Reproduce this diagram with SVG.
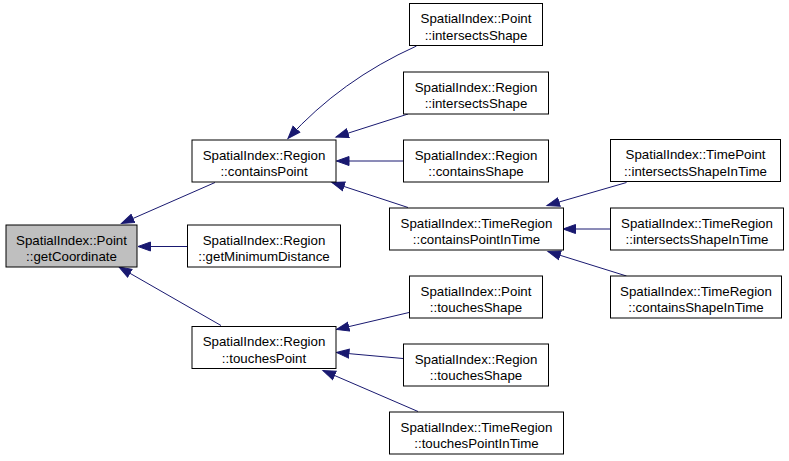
<svg xmlns="http://www.w3.org/2000/svg" width="789" height="461" viewBox="0 0 789 461">
<defs>
<style>
.box{fill:#ffffff;stroke:#000000;stroke-width:1}
.sel{fill:#bfbfbf;stroke:#000000;stroke-width:1}
text{font-family:"Liberation Sans",Helvetica,Arial,sans-serif;font-size:13.3px;fill:#000000;text-anchor:middle}
.edge{fill:none;stroke:#191970;stroke-width:1;marker-end:url(#arr)}
</style>
<marker id="arr" markerUnits="userSpaceOnUse" markerWidth="16" markerHeight="12" refX="13" refY="5" orient="auto" viewBox="0 0 16 10">
<path d="M0.5,0.5 L13,5 L0.5,9.5 Z" fill="#191970" stroke="#191970" stroke-width="1"/>
</marker>
</defs>
<g id="edges">
<path class="edge" d="M215,182.5 L121.5,223.5"/>
<path class="edge" d="M187,246.5 L138,246.5"/>
<path class="edge" d="M221,325.5 L119,267"/>
<path class="edge" d="M416.5,46 Q341,80 288,138.5"/>
<path class="edge" d="M408,114 L336,137"/>
<path class="edge" d="M403,161 L336.5,161"/>
<path class="edge" d="M408,207.5 L332,182.5"/>
<path class="edge" d="M626.5,182.5 L547,205.5"/>
<path class="edge" d="M610,229 L563,229"/>
<path class="edge" d="M626.5,276 L548,251.5"/>
<path class="edge" d="M409,312.5 L336.5,329.5"/>
<path class="edge" d="M403,358.5 L336.5,352.5"/>
<path class="edge" d="M418,411.5 L323,370.5"/>
</g>
<g id="n_getCoordinate"><rect class="sel" x="6" y="225" width="131" height="42"/><text x="71.5" y="244.5">SpatialIndex::Point</text><text x="71.5" y="261">::getCoordinate</text></g>
<g id="n_containsPoint"><rect class="box" x="192" y="140" width="144" height="42"/><text x="264" y="159.5">SpatialIndex::Region</text><text x="264" y="176">::containsPoint</text></g>
<g id="n_getMinimumDistance"><rect class="box" x="187.5" y="225" width="153" height="42"/><text x="264" y="244.5">SpatialIndex::Region</text><text x="264" y="261">::getMinimumDistance</text></g>
<g id="n_touchesPoint"><rect class="box" x="192" y="326.5" width="144" height="42"/><text x="264" y="346">SpatialIndex::Region</text><text x="264" y="362.5">::touchesPoint</text></g>
<g id="n_point_intersectsShape"><rect class="box" x="409.5" y="3.5" width="133" height="42"/><text x="476" y="23">SpatialIndex::Point</text><text x="476" y="39.5">::intersectsShape</text></g>
<g id="n_region_intersectsShape"><rect class="box" x="403.5" y="72" width="145" height="42"/><text x="476" y="91.5">SpatialIndex::Region</text><text x="476" y="108">::intersectsShape</text></g>
<g id="n_region_containsShape"><rect class="box" x="403.5" y="140" width="145" height="42"/><text x="476" y="159.5">SpatialIndex::Region</text><text x="476" y="176">::containsShape</text></g>
<g id="n_containsPointInTime"><rect class="box" x="389.5" y="208" width="174" height="42"/><text x="476.5" y="227.5">SpatialIndex::TimeRegion</text><text x="476.5" y="244">::containsPointInTime</text></g>
<g id="n_point_touchesShape"><rect class="box" x="409.5" y="276" width="133" height="42"/><text x="476" y="295.5">SpatialIndex::Point</text><text x="476" y="312">::touchesShape</text></g>
<g id="n_region_touchesShape"><rect class="box" x="403.5" y="344" width="145" height="42"/><text x="476" y="363.5">SpatialIndex::Region</text><text x="476" y="380">::touchesShape</text></g>
<g id="n_touchesPointInTime"><rect class="box" x="389.5" y="412" width="174" height="42"/><text x="476.5" y="431.5">SpatialIndex::TimeRegion</text><text x="476.5" y="448">::touchesPointInTime</text></g>
<g id="n_timepoint_intersectsShapeInTime"><rect class="box" x="610.5" y="139.5" width="170" height="42"/><text x="695.5" y="159">SpatialIndex::TimePoint</text><text x="695.5" y="175.5">::intersectsShapeInTime</text></g>
<g id="n_timeregion_intersectsShapeInTime"><rect class="box" x="610.5" y="208" width="173" height="42"/><text x="697" y="227.5">SpatialIndex::TimeRegion</text><text x="697" y="244">::intersectsShapeInTime</text></g>
<g id="n_timeregion_containsShapeInTime"><rect class="box" x="610.5" y="276" width="171" height="42"/><text x="696" y="295.5">SpatialIndex::TimeRegion</text><text x="696" y="312">::containsShapeInTime</text></g>
</svg>
